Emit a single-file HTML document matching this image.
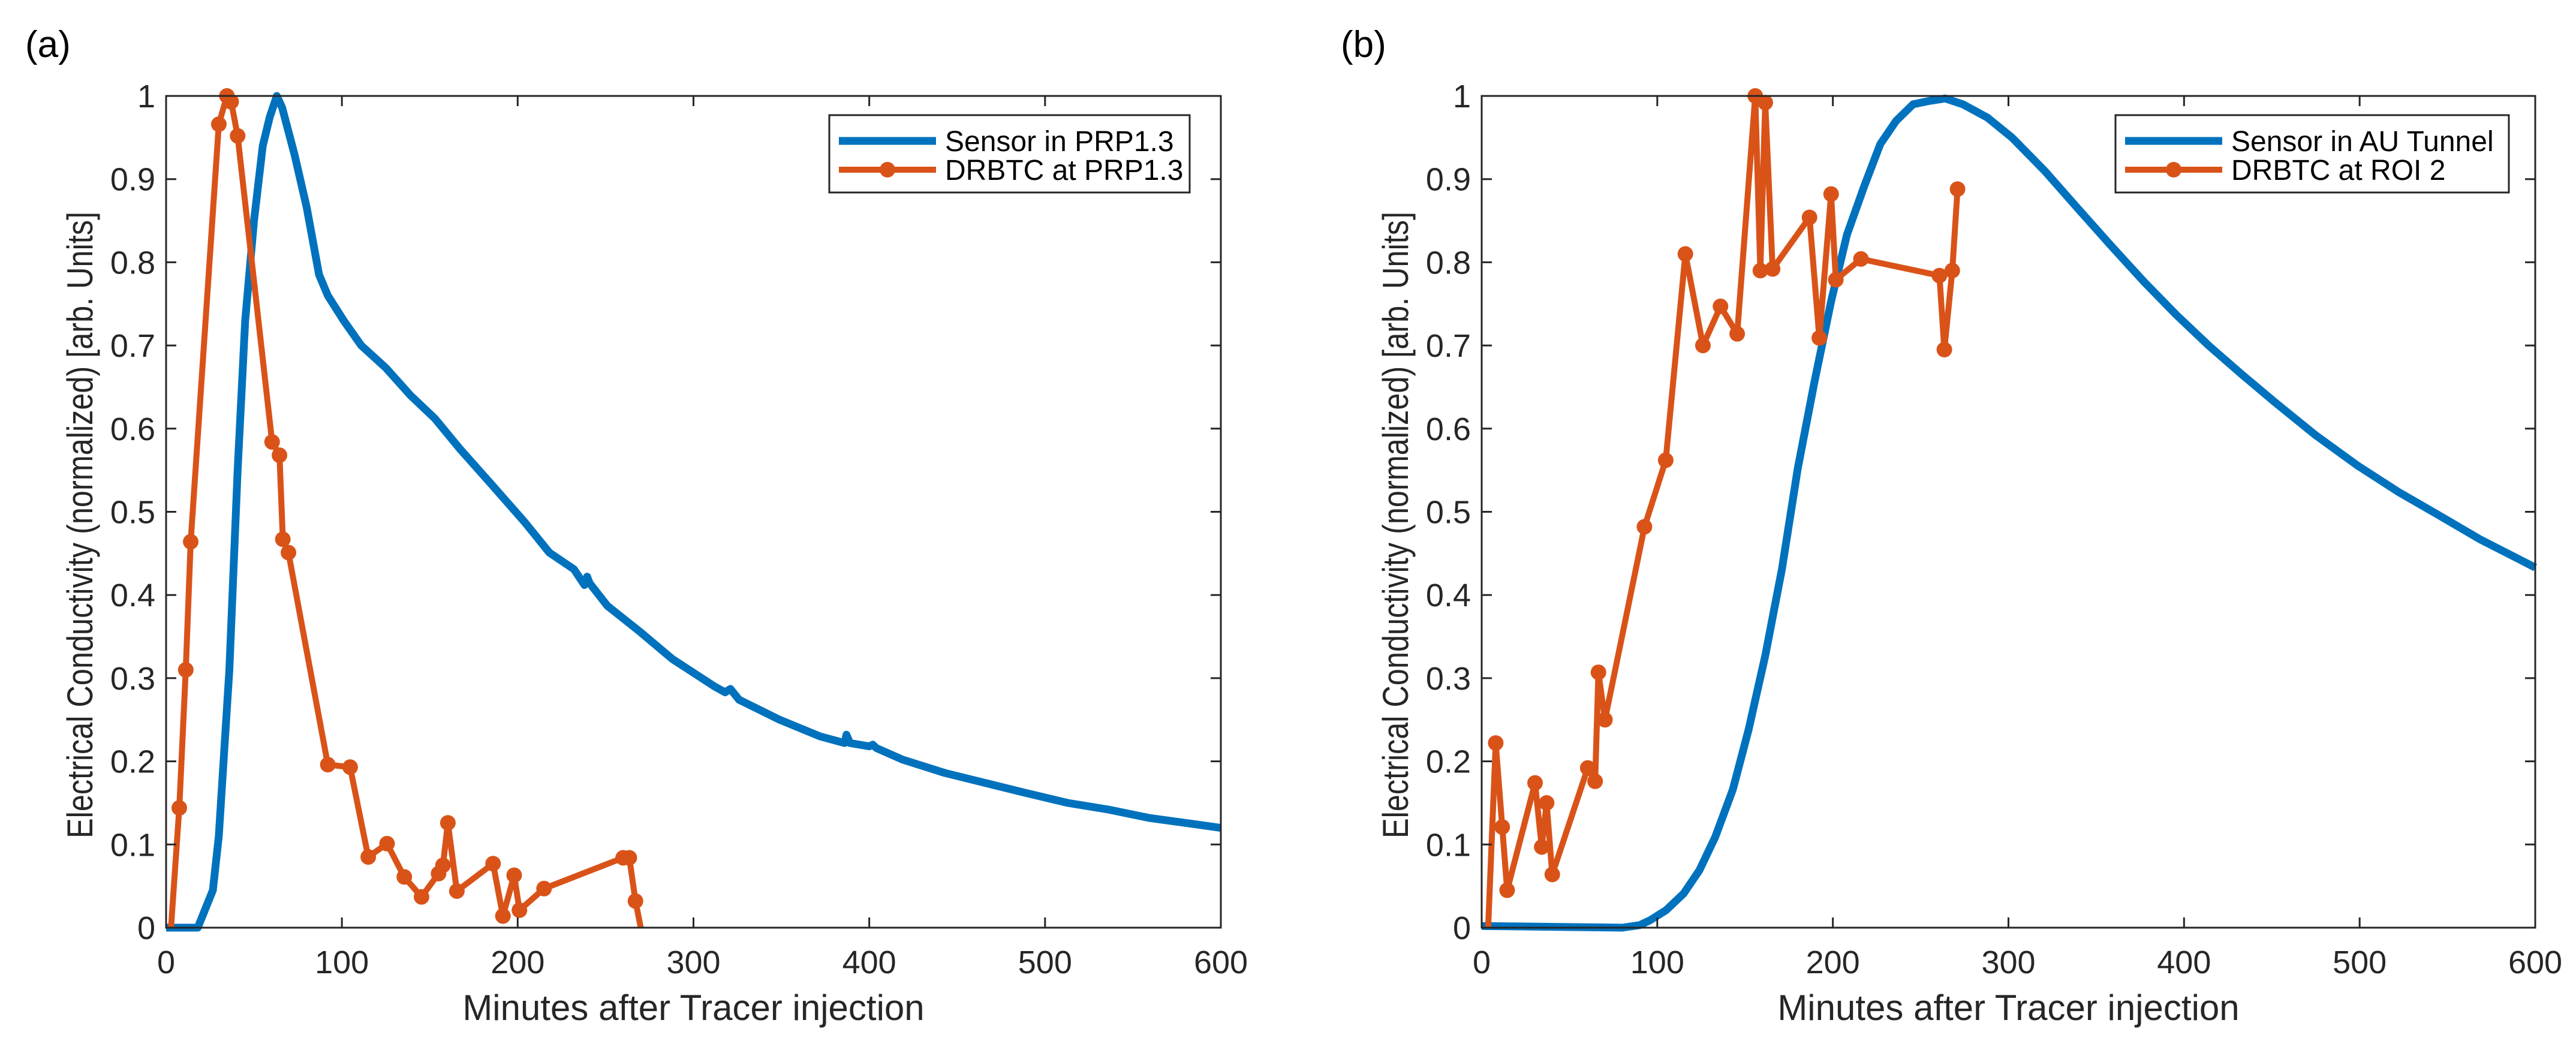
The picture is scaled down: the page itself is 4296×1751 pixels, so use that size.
<!DOCTYPE html>
<html><head><meta charset="utf-8">
<style>
html,body{margin:0;padding:0;background:#fff;}
svg{display:block;}
text{fill:#262626;}
.tick{font-family:"Liberation Sans Narrow","Liberation Sans",sans-serif;font-size:54px;}
.title{font-family:"Liberation Sans Narrow","Liberation Sans",sans-serif;font-size:60px;}
.panel{font-family:"Liberation Sans",sans-serif;font-size:62px;fill:#000;}
.leg{font-family:"Liberation Sans Narrow","Liberation Sans",sans-serif;font-size:48px;fill:#000;}
</style></head>
<body>
<svg id="fig" width="4296" height="1751" viewBox="0 0 4296 1751" xmlns="http://www.w3.org/2000/svg"></svg>
<script>
const xTicks=[0,100,200,300,400,500,600];
const yTicks=[0,0.1,0.2,0.3,0.4,0.5,0.6,0.7,0.8,0.9,1];
const yTickLabels=["0","0.1","0.2","0.3","0.4","0.5","0.6","0.7","0.8","0.9","1"];
const sensorA_x=[0,18,26.6,30,36,40.7,45,50,55,59,63,66,73,80,87,92,101,111,125,139,153,167,185.5,204,218,232,238,239.5,241,251,270,288,312,318,321,326,349,372,386,387,389,400,402,404,419,443,466,489,513,536,559,583,600];
const sensorA_y=[0,0,0.045,0.11,0.31,0.55,0.73,0.85,0.94,0.975,1.0,0.986,0.93,0.866,0.785,0.76,0.73,0.70,0.673,0.64,0.612,0.576,0.532,0.4875,0.451,0.431,0.412,0.422,0.414,0.387,0.355,0.323,0.29,0.283,0.287,0.274,0.25,0.23,0.222,0.232,0.222,0.218,0.22,0.216,0.202,0.186,0.174,0.162,0.15,0.142,0.132,0.125,0.12];
const drbtcA_x=[2.8,7.5,11.2,14,30,34.6,37,40.7,60.3,64.5,66.4,69.6,92,104.7,115,125.7,135.5,145.3,155,157.5,160.3,165.4,186,191.6,198,201,215,260,263.5,267,270];
const drbtcA_y=[0,0.144,0.31,0.464,0.966,1,0.993,0.952,0.584,0.568,0.467,0.451,0.196,0.193,0.085,0.101,0.061,0.037,0.065,0.075,0.126,0.044,0.077,0.014,0.063,0.021,0.047,0.084,0.084,0.032,0];
const sensorB_x=[0,40,80,90,96,105,115,124,133,143,152,161.5,171,180,189.5,199,208,217.6,227,236,245.7,255,264,274,288,302,320.6,339,358,377,395.5,414,433,451.6,475,498.5,522,545,568.5,600];
const sensorB_y=[0.002,0.001,0,0.003,0.009,0.021,0.041,0.069,0.109,0.166,0.238,0.327,0.431,0.552,0.656,0.753,0.833,0.89,0.942,0.97,0.99,0.994,0.997,0.99,0.974,0.95,0.91,0.866,0.821,0.777,0.737,0.70,0.665,0.632,0.592,0.556,0.524,0.496,0.467,0.433];
const drbtcB_x=[3.7,8,11.7,14.5,30.4,34.2,37,40.2,60.4,64.6,66.5,70.2,92.7,104.8,116,126,136,145.5,155.8,158.7,161.5,165.7,186.7,192.3,199,201.7,216,260.7,263.5,268,271];
const drbtcB_y=[0,0.222,0.121,0.045,0.174,0.097,0.15,0.064,0.192,0.176,0.307,0.25,0.482,0.562,0.81,0.70,0.747,0.714,1.0,0.79,0.992,0.792,0.854,0.709,0.882,0.779,0.804,0.784,0.695,0.79,0.888];

const NS="http://www.w3.org/2000/svg";
const svg=document.getElementById('fig');
function mk(tag,attrs,parent){const e=document.createElementNS(NS,tag);for(const k in attrs)e.setAttribute(k,attrs[k]);(parent||svg).appendChild(e);return e;}

function panel(id,L,R,T,B,label,sx,sy,dx,dy,legText1,legText2,legX1,legX2){
  const g=mk('g',{});
  
  
  const X=v=>L+(v/600)*(R-L);
  const Y=v=>B-v*(B-T);
  const pl=mk('text',{x:L-235,y:95,class:'panel'},g);pl.textContent=label;
  
  
  const clip=mk('clipPath',{id:'clip'+id},g);mk('rect',{x:L-10,y:T-20,width:R-L+20,height:B-T+30},clip);
  let d=sx.map((v,i)=>(i?'L':'M')+X(v).toFixed(1)+' '+Y(sy[i]).toFixed(1)).join(' ');
  const s=mk('path',{d:d,fill:'none',stroke:'#0072BD','stroke-width':13,'stroke-linejoin':'round','clip-path':'url(#clip'+id+')'},g);
  
  
  d=dx.map((v,i)=>(i?'L':'M')+X(v).toFixed(1)+' '+Y(dy[i]).toFixed(1)).join(' ');
  const o=mk('path',{d:d,fill:'none',stroke:'#D95319','stroke-width':10,'stroke-linejoin':'round'},g);
  
  
  dx.forEach((v,i)=>{
    if(i===0||i===dx.length-1&&id==='a')return;
    const c=mk('circle',{cx:X(v),cy:Y(dy[i]),r:13,fill:'#D95319'},g);
    
    
  });
  const box=mk('rect',{x:L,y:T,width:R-L,height:B-T,fill:'none',stroke:'#262626','stroke-width':3},g);
  
  
  xTicks.forEach(v=>{
    mk('line',{x1:X(v),x2:X(v),y1:B,y2:B-17,stroke:'#262626','stroke-width':3},g);
    mk('line',{x1:X(v),x2:X(v),y1:T,y2:T+17,stroke:'#262626','stroke-width':3},g);
    const t=mk('text',{x:X(v),y:B+76,class:'tick','text-anchor':'middle'},g);t.textContent=v;
    
    
  });
  yTicks.forEach((v,i)=>{
    mk('line',{x1:L,x2:L+17,y1:Y(v),y2:Y(v),stroke:'#262626','stroke-width':3},g);
    mk('line',{x1:R,x2:R-17,y1:Y(v),y2:Y(v),stroke:'#262626','stroke-width':3},g);
    const t=mk('text',{x:L-18,y:Y(v)+19,class:'tick','text-anchor':'end'},g);t.textContent=yTickLabels[i];
    
    
  });
  const xt=mk('text',{x:(L+R)/2,y:1701,class:'title','text-anchor':'middle'},g);xt.textContent='Minutes after Tracer injection';
  
  
  const yt=mk('text',{x:0,y:0,class:'title','text-anchor':'middle',textLength:1045,lengthAdjust:'spacingAndGlyphs',transform:'translate('+(L-123)+','+((T+B)/2+22)+') rotate(-90)'},g);yt.textContent='Electrical Conductivity (normalized) [arb. Units]';
  
  
  const lg=mk('g',{},g);
  
  
  mk('rect',{x:legX1,y:192,width:legX2-legX1,height:129,fill:'#fff',stroke:'#262626','stroke-width':3},lg);
  mk('line',{x1:legX1+16,x2:legX1+178,y1:235,y2:235,stroke:'#0072BD','stroke-width':13},lg);
  mk('line',{x1:legX1+16,x2:legX1+178,y1:283,y2:283,stroke:'#D95319','stroke-width':10},lg);
  mk('circle',{cx:legX1+97,cy:283,r:13,fill:'#D95319'},lg);
  const t1=mk('text',{x:legX1+193,y:252,class:'leg'},lg);t1.textContent=legText1;
  
  
  const t2=mk('text',{x:legX1+193,y:300,class:'leg'},lg);t2.textContent=legText2;
  
  
}
panel('a',277,2036,160,1547,'(a)',sensorA_x,sensorA_y,drbtcA_x,drbtcA_y,'Sensor in PRP1.3','DRBTC at PRP1.3',1383,1984);
panel('b',2471,4228,160,1547,'(b)',sensorB_x,sensorB_y,drbtcB_x,drbtcB_y,'Sensor in AU Tunnel','DRBTC at ROI 2',3528,4184);
</script>
</body></html>
